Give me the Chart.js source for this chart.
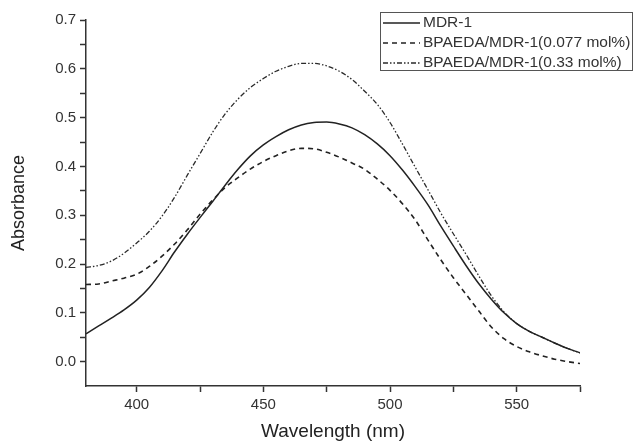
<!DOCTYPE html>
<html lang="en">
  <head>
    <meta charset="UTF-8" />
    <title>Absorbance</title>
    <script src="https://cdn.jsdelivr.net/npm/chart.js"></script>
    <style>
      body {
        margin: 0;
        background: #fff;
      }
    </style>
  </head>

  <body>
    <canvas id="chart" width="634" height="444"></canvas>
  </body>

  <script>
    // wavelength (nm), every 5 nm
    const wavelength = [
      380, 385, 390, 395, 400, 405, 410, 415, 420, 425, 430, 435, 440, 445,
      450, 455, 460, 465, 470, 475, 480, 485, 490, 495, 500, 505, 510, 515,
      520, 525, 530, 535, 540, 545, 550, 555, 560, 565, 570, 575,
    ];

    const mdr1 = [
      0.057, 0.073, 0.089, 0.106, 0.126, 0.152, 0.186, 0.225, 0.261, 0.295,
      0.328, 0.362, 0.394, 0.422, 0.444, 0.461, 0.475, 0.485, 0.49, 0.491,
      0.487, 0.479, 0.465, 0.446, 0.422, 0.392, 0.358, 0.321, 0.278, 0.237,
      0.197, 0.16, 0.128, 0.1, 0.078, 0.062, 0.05, 0.038, 0.027, 0.018,
    ];

    const bpaeda077 = [
      0.158, 0.159, 0.165, 0.171, 0.179, 0.195, 0.216, 0.241, 0.27, 0.302,
      0.331, 0.357, 0.377, 0.395, 0.41, 0.422, 0.432, 0.437, 0.436, 0.429,
      0.419, 0.407, 0.394, 0.374, 0.351, 0.323, 0.29, 0.249, 0.209, 0.172,
      0.138, 0.104, 0.071, 0.047, 0.031, 0.02, 0.012, 0.005, 0.0, -0.004,
    ];

    const bpaeda033 = [
      0.193, 0.197, 0.206, 0.222, 0.243, 0.267, 0.298, 0.337, 0.382, 0.426,
      0.47, 0.508, 0.538, 0.562, 0.58, 0.595, 0.605, 0.611, 0.611, 0.606,
      0.595, 0.578, 0.554, 0.527, 0.49, 0.445, 0.398, 0.352, 0.305, 0.262,
      0.22, 0.176, 0.135, 0.102, 0.078, 0.062, 0.05, 0.038, 0.027, 0.018,
    ];

    const seriesLabels = [
      "MDR-1",
      "BPAEDA/MDR-1(0.077 mol%)",
      "BPAEDA/MDR-1(0.33 mol%)",
    ];

    const xTicks = [400, 425, 450, 475, 500, 525, 550, 575];
    const yTicks = [];
    for (let i = 0; i <= 14; i++) yTicks.push(Math.round(i * 5) / 100);

    const fontFamily = "'Liberation Sans', Arial, sans-serif";
    const ink = "#222";

    function toPoints(ys) {
      return ys.map((y, i) => ({ x: wavelength[i], y: y }));
    }

    // legend box drawn inside the plot, top right
    const boxLegend = {
      id: "boxLegend",
      afterDraw(chart) {
        const ctx = chart.ctx;
        const x0 = 380.5, y0 = 12.5, w = 252, h = 58;
        ctx.save();
        ctx.fillStyle = "#fff";
        ctx.fillRect(x0, y0, w, h);
        ctx.strokeStyle = "#555";
        ctx.lineWidth = 1;
        ctx.strokeRect(x0, y0, w, h);
        ctx.font = "15.5px " + fontFamily;
        ctx.textBaseline = "middle";
        chart.data.datasets.forEach((ds, i) => {
          const y = 23 + i * 20;
          ctx.strokeStyle = ds.borderColor;
          ctx.lineWidth = ds.borderWidth;
          ctx.setLineDash(ds.borderDash || []);
          ctx.beginPath();
          ctx.moveTo(383, y);
          ctx.lineTo(420, y);
          ctx.stroke();
          ctx.setLineDash([]);
          ctx.fillStyle = "#333";
          ctx.fillText(ds.label, 423, y);
        });
        ctx.restore();
      },
    };

    const data = {
      datasets: [
        {
          label: seriesLabels[0],
          data: toPoints(mdr1),
          borderColor: ink,
          borderWidth: 1.5,
        },
        {
          label: seriesLabels[1],
          data: toPoints(bpaeda077),
          borderColor: ink,
          borderWidth: 1.6,
          borderDash: [5, 4],
        },
        {
          label: seriesLabels[2],
          data: toPoints(bpaeda033),
          borderColor: "#2a2a2a",
          borderWidth: 1.3,
          borderDash: [5, 2, 1.5, 2, 1.5, 2],
        },
      ],
    };

    const config = {
      type: "line",
      data: data,
      plugins: [boxLegend],
      options: {
        responsive: false,
        animation: false,
        layout: { padding: { top: 20, right: 54, left: 0, bottom: 0 } },
        elements: {
          point: { radius: 0 },
          line: { cubicInterpolationMode: "monotone", fill: false },
        },
        plugins: {
          legend: { display: false },
          tooltip: { enabled: false },
        },
        scales: {
          x: {
            type: "linear",
            min: 380,
            max: 575,
            afterBuildTicks: (axis) => {
              axis.ticks = xTicks.map((v) => ({ value: v }));
            },
            afterFit: (scale) => {
              scale.height = 58;
            },
            ticks: {
              color: "#333",
              font: { family: fontFamily, size: 15 },
              padding: 4,
              maxRotation: 0,
              autoSkip: false,
              callback: (v) => (v % 50 === 0 ? String(v) : ""),
            },
            grid: {
              drawOnChartArea: false,
              drawTicks: true,
              tickLength: 6,
              tickColor: "#333",
              tickWidth: 1.5,
            },
            border: { display: true, color: "#333", width: 1.5 },
            title: {
              display: true,
              text: "Wavelength (nm)",
              color: "#222",
              font: { family: fontFamily, size: 19 },
              padding: { top: 0, bottom: 1 },
            },
          },
          y: {
            min: -0.05,
            max: 0.7,
            afterBuildTicks: (axis) => {
              axis.ticks = yTicks.map((v) => ({ value: v }));
            },
            afterFit: (scale) => {
              scale.width = 86;
            },
            ticks: {
              color: "#333",
              font: { family: fontFamily, size: 15 },
              padding: 4,
              autoSkip: false,
              callback: (v) =>
                Math.round(v * 100) % 10 === 0 ? v.toFixed(1) : "",
            },
            grid: {
              drawOnChartArea: false,
              drawTicks: true,
              tickLength: 6,
              tickColor: "#333",
              tickWidth: 1.5,
            },
            border: { display: true, color: "#333", width: 1.5 },
            title: {
              display: true,
              text: "Absorbance",
              color: "#222",
              font: { family: fontFamily, size: 18 },
              padding: { top: 8, bottom: 0 },
            },
          },
        },
      },
    };

    const chart = new Chart(document.getElementById("chart"), config);
  </script>
</html>
